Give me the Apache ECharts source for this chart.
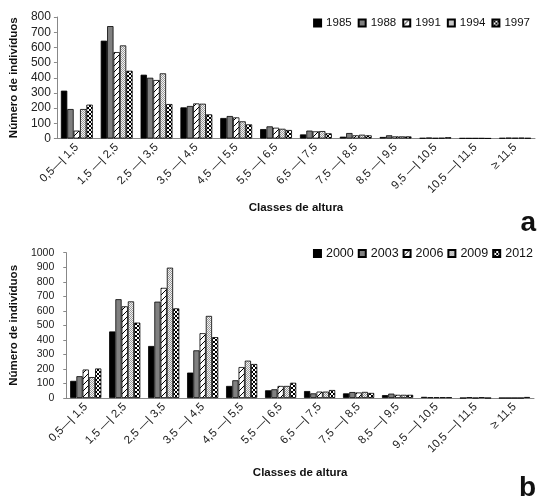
<!DOCTYPE html>
<html>
<head>
<meta charset="utf-8">
<script src="https://cdn.jsdelivr.net/npm/echarts@6/dist/echarts.min.js"></script>
<style>
  html, body { margin: 0; padding: 0; background: #fff; }
  #myChart { width: 540px; height: 498px; }
</style>
</head>
<body>
<div id="myChart"></div>
<script>
// classes de altura (eixo x, comum aos dois gráficos)
var classes = ["0,5—| 1,5", "1,5 —| 2,5", "2,5 —| 3,5", "3,5 —| 4,5", "4,5 —| 5,5", "5,5 —| 6,5",
  "6,5 —| 7,5", "7,5 —| 8,5", "8,5 —| 9,5", "9,5 —| 10,5", "10,5 —| 11,5", "≥ 11,5"];

// gráfico a
var anosA = ["1985", "1988", "1991", "1994", "1997"];
var v1985 = [315, 644, 420, 205, 135, 62, 27, 12, 10, 3, 2, 3];
var v1988 = [194, 740, 400, 214, 148, 80, 52, 36, 21, 6, 2, 5];
var v1991 = [52, 569, 385, 231, 139, 71, 47, 21, 14, 3, 2, 4];
var v1994 = [194, 613, 429, 229, 113, 64, 49, 25, 14, 4, 2, 5];
var v1997 = [223, 446, 227, 159, 93, 56, 34, 21, 14, 8, 1, 3];
var ticksA = [0, 800, 100];

// gráfico b
var anosB = ["2000", "2003", "2006", "2009", "2012"];
var v2000 = [118, 458, 358, 175, 83, 53, 48, 32, 20, 8, 0, 0];
var v2003 = [150, 680, 663, 328, 122, 60, 32, 41, 30, 5, 5, 0];
var v2006 = [196, 631, 758, 446, 213, 83, 44, 38, 22, 5, 0, 0];
var v2009 = [144, 665, 897, 565, 257, 83, 44, 42, 22, 5, 5, 0];
var v2012 = [203, 519, 617, 419, 234, 105, 55, 35, 22, 5, 0, 7];
var ticksB = [0, 1000, 100];

var fonte = "'Liberation Sans', Arial, sans-serif";

// padrões de preenchimento das barras
function padrao(tipo) {
  var c = document.createElement("canvas");
  var ctx;
  if (tipo === "hachura") {
    c.width = 6; c.height = 6;
    ctx = c.getContext("2d");
    ctx.fillStyle = "#fff";
    ctx.fillRect(0, 0, 6, 6);
    ctx.strokeStyle = "#000";
    ctx.lineWidth = 1;
    ctx.beginPath();
    ctx.moveTo(0, 6); ctx.lineTo(6, 0);
    ctx.moveTo(-1, 1); ctx.lineTo(1, -1);
    ctx.moveTo(5, 7); ctx.lineTo(7, 5);
    ctx.stroke();
  } else if (tipo === "pontos") {
    c.width = 2; c.height = 2;
    ctx = c.getContext("2d");
    ctx.fillStyle = "#f2f2f2";
    ctx.fillRect(0, 0, 2, 2);
    ctx.fillStyle = "#9a9a9a";
    ctx.fillRect(0, 0, 1, 1);
    ctx.fillRect(1, 1, 1, 1);
  } else {
    c.width = 4; c.height = 4;
    ctx = c.getContext("2d");
    ctx.fillStyle = "#000";
    ctx.fillRect(0, 0, 4, 4);
    ctx.fillStyle = "#fff";
    ctx.fillRect(1, 0, 2, 1);
    ctx.fillRect(0, 1, 1, 2);
    ctx.fillRect(3, 1, 1, 2);
    ctx.fillRect(1, 3, 2, 1);
  }
  return { image: c, repeat: "repeat" };
}

var cores = ["#000000", "#808080", padrao("hachura"), padrao("pontos"), padrao("xadrez")];

function serie(nome, dados, idx, k) {
  return {
    name: nome,
    type: "bar",
    xAxisIndex: idx,
    yAxisIndex: idx,
    data: dados,
    barGap: "0%",
    barCategoryGap: "20%",
    itemStyle: { color: cores[k], borderColor: "#000", borderWidth: 0.8 }
  };
}

function eixoX(idx, gap) {
  return {
    type: "category",
    gridIndex: idx,
    data: classes,
    axisLine: { lineStyle: { color: "#888" } },
    axisTick: { length: 4, lineStyle: { color: "#888" } },
    axisLabel: { rotate: 45, interval: 0, fontSize: 11.5, color: "#222", fontFamily: fonte, margin: 7 },
    name: "Classes de altura",
    nameLocation: "middle",
    nameGap: gap,
    nameTextStyle: { fontWeight: "bold", fontSize: 11.5, color: "#111", fontFamily: fonte }
  };
}

function eixoY(idx, t, gap, margem, fs) {
  return {
    type: "value",
    gridIndex: idx,
    min: t[0],
    max: t[1],
    interval: t[2],
    axisLine: { show: true, lineStyle: { color: "#888" } },
    axisTick: { show: true, length: 3, lineStyle: { color: "#888" } },
    splitLine: { show: false },
    axisLabel: {
      fontSize: fs, color: "#222", fontFamily: fonte, margin: margem,
      formatter: function (v) { return String(v); }
    },
    name: "Número de indivíduos",
    nameLocation: "middle",
    nameGap: gap,
    nameTextStyle: { fontWeight: "bold", fontSize: 11.5, color: "#111", fontFamily: fonte }
  };
}

var myChart = echarts.init(document.getElementById("myChart"));

var option = {
  animation: false,
  backgroundColor: "#fff",
  title: [
    { text: "a", right: 4, top: 209, padding: 0, textStyle: { fontSize: 28, fontWeight: "bold", color: "#111", fontFamily: fonte } },
    { text: "b", right: 4, top: 474, padding: 0, textStyle: { fontSize: 28, fontWeight: "bold", color: "#111", fontFamily: fonte } }
  ],
  legend: [
    { data: anosA, right: 5, top: 12, icon: "rect", itemWidth: 7, itemHeight: 7, itemGap: 6,
      textStyle: { fontSize: 11.5, color: "#111", fontFamily: fonte } },
    { data: anosB, right: 2, top: 242, icon: "rect", itemWidth: 7, itemHeight: 7, itemGap: 4,
      textStyle: { fontSize: 12.5, color: "#111", fontFamily: fonte } }
  ],
  grid: [
    { left: 55, top: 17, width: 480, height: 121.5 },
    { left: 64, top: 252.7, width: 470, height: 145.3 }
  ],
  xAxis: [eixoX(0, 63), eixoX(1, 69)],
  yAxis: [eixoY(0, ticksA, 34, 6, 12), eixoY(1, ticksB, 40, 12, 10.5)],
  series: [
    serie(anosA[0], v1985, 0, 0),
    serie(anosA[1], v1988, 0, 1),
    serie(anosA[2], v1991, 0, 2),
    serie(anosA[3], v1994, 0, 3),
    serie(anosA[4], v1997, 0, 4),
    serie(anosB[0], v2000, 1, 0),
    serie(anosB[1], v2003, 1, 1),
    serie(anosB[2], v2006, 1, 2),
    serie(anosB[3], v2009, 1, 3),
    serie(anosB[4], v2012, 1, 4)
  ]
};
myChart.setOption(option);
</script>
</body>
</html>
